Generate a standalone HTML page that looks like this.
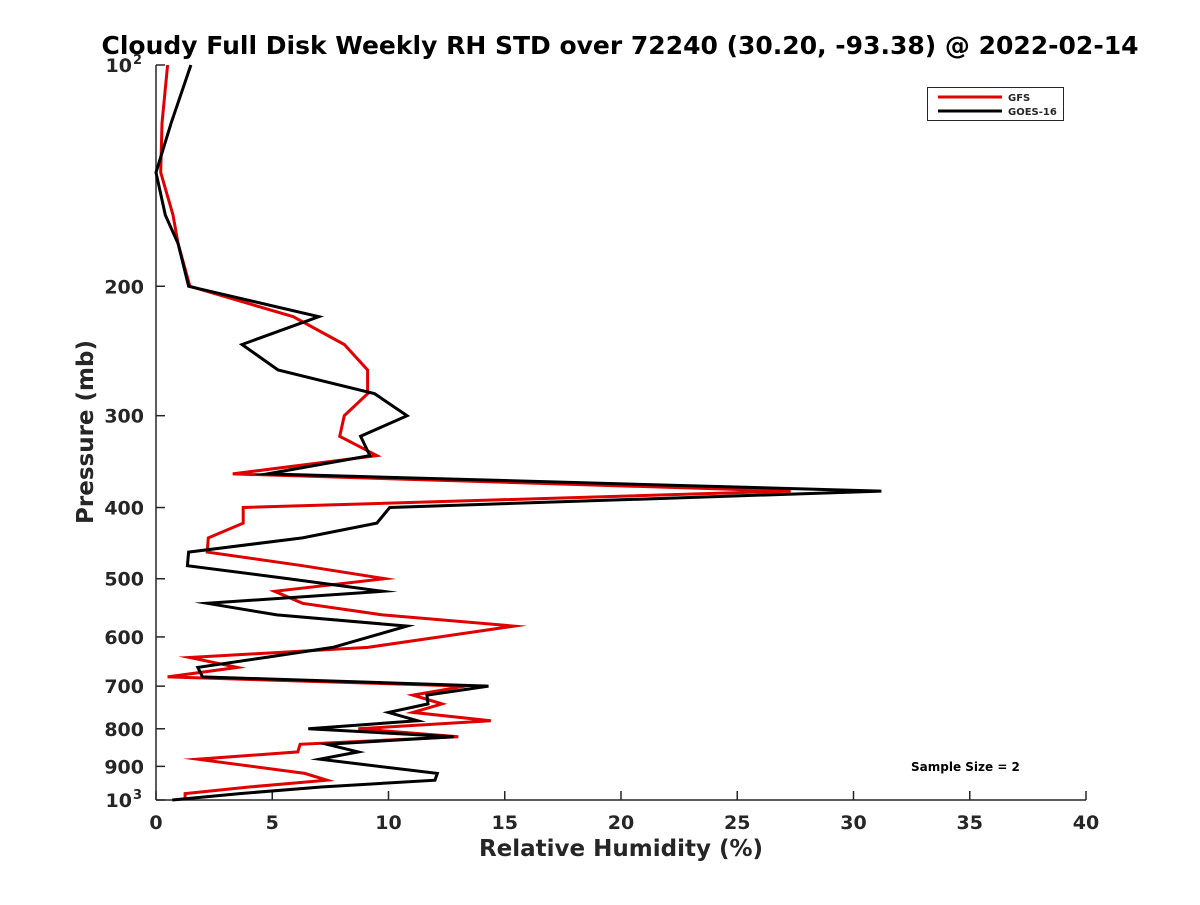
<!DOCTYPE html>
<html><head><meta charset="utf-8"><style>
html,body{margin:0;padding:0;background:#fff;}
svg text{font-family:"DejaVu Sans","Liberation Sans",sans-serif;font-weight:bold;fill:#262626;}
</style></head><body>
<svg id="chart" width="1200" height="900" xmlns="http://www.w3.org/2000/svg">
<rect width="1200" height="900" fill="#fff"/>
<text x="620" y="54" font-size="25" text-anchor="middle" style="fill:#000">Cloudy Full Disk Weekly RH STD over 72240 (30.20, -93.38) @ 2022-02-14</text>
<g id="axes"></g>
<g id="series"></g>
<text x="621" y="856" font-size="23" text-anchor="middle">Relative Humidity (%)</text>
<text x="0" y="0" font-size="23" text-anchor="middle" transform="translate(93,432) rotate(-90)">Pressure (mb)</text>
<g>
<rect x="927.5" y="87.5" width="136" height="33" fill="#fff" stroke="#262626" stroke-width="1"/>
<line x1="938" y1="97" x2="1002" y2="97" stroke="#e00000" stroke-width="3"/>
<text x="1008" y="101" font-size="10">GFS</text>
<line x1="938" y1="111" x2="1002" y2="111" stroke="#000" stroke-width="3"/>
<text x="1008" y="115" font-size="10">GOES-16</text>
</g>
<text x="911" y="771" font-size="12" style="fill:#000">Sample Size = 2</text>
</svg>
<script>
const levels = [100,120,140,160,175,200,220,240,260,280,300,320,340,360,380,400,420,440,460,480,500,520,540,560,580,620,640,660,680,700,720,740,760,780,800,820,840,860,880,920,940,960,980,1000];
const gfs = [0.5,0.26,0.2,0.73,0.95,1.46,5.9,8.1,9.1,9.1,8.1,7.9,9.5,3.3,27.3,3.75,3.75,2.25,2.2,6.3,9.85,5.1,6.3,9.75,15.4,9.1,1.45,3.5,0.5,13.3,11.05,12.3,11.05,14.4,8.7,13.0,6.2,6.1,1.8,6.4,7.35,4.0,1.25,1.25];
const goes = [1.5,0.65,0,0.4,0.95,1.4,7.0,3.7,5.25,9.4,10.8,8.8,9.2,4.8,31.2,10.05,9.5,6.3,1.4,1.35,5.7,9.75,2.2,5.2,10.8,7.6,4.7,1.8,2.0,14.3,11.65,11.7,10.0,11.25,6.55,12.8,7.35,8.7,7.05,12.1,12.0,7.1,3.6,0.7];
const xTicks = [0,5,10,15,20,25,30,35,40];
const yTicks = [100,200,300,400,500,600,700,800,900,1000];
const yTickLabels = ["10|2","200","300","400","500","600","700","800","900","10|3"];

const X0=156,X1=1086,Y0=65,Y1=800;
const xs = v => X0 + (v-0)/(40-0)*(X1-X0);
const ys = p => Y0 + (Math.log10(p)-2)/(3-2)*(Y1-Y0);
const NS="http://www.w3.org/2000/svg";
function mk(tag, attrs, parent){const e=document.createElementNS(NS,tag);for(const k in attrs)e.setAttribute(k,attrs[k]);parent.appendChild(e);return e;}
const ax=document.getElementById('axes');
let l=mk('line',{x1:X0,y1:Y1,x2:X1,y2:Y1,stroke:'#262626','stroke-width':1.5},ax);


l=mk('line',{x1:X0,y1:Y0,x2:X0,y2:Y1,stroke:'#262626','stroke-width':1.5},ax);


xTicks.forEach(v=>{
  const x=xs(v);
  const t=mk('line',{x1:x,y1:Y1,x2:x,y2:Y1-9,stroke:'#262626','stroke-width':1.5},ax);
  
  
  const tx=mk('text',{x:x,y:Y1+29,'font-size':19,'text-anchor':'middle'},ax);
  tx.textContent=String(v);
  
  
});
yTicks.forEach((p,i)=>{
  const y=ys(p);
  const t=mk('line',{x1:X0,y1:y,x2:X0+9,y2:y,stroke:'#262626','stroke-width':1.5},ax);
  
  
  const lab=yTickLabels[i];
  if(lab.indexOf('|')>=0){
    const parts=lab.split('|');
    const tx=mk('text',{x:X0-24,y:y+7,'font-size':19,'text-anchor':'end'},ax);
    tx.textContent=parts[0];
    
    
    const sp=mk('text',{x:X0-23,y:y-1,'font-size':13,'text-anchor':'start'},ax);
    sp.textContent=parts[1];
    
    
  } else {
    const tx=mk('text',{x:X0-12,y:y+7,'font-size':19,'text-anchor':'end'},ax);
    tx.textContent=lab;
    
    
  }
});
const sg=document.getElementById('series');
function line(vals,color,name){
  const d=vals.map((v,i)=>(i?'L':'M')+xs(v).toFixed(1)+','+ys(levels[i]).toFixed(1)).join(' ');
  const p=mk('path',{d:d,fill:'none',stroke:color,'stroke-width':3,'stroke-linejoin':'miter','stroke-miterlimit':10},sg);
  
  
}
line(gfs,'#e00000','gfs-line');
line(goes,'#000000','goes16-line');
</script>
</body></html>
